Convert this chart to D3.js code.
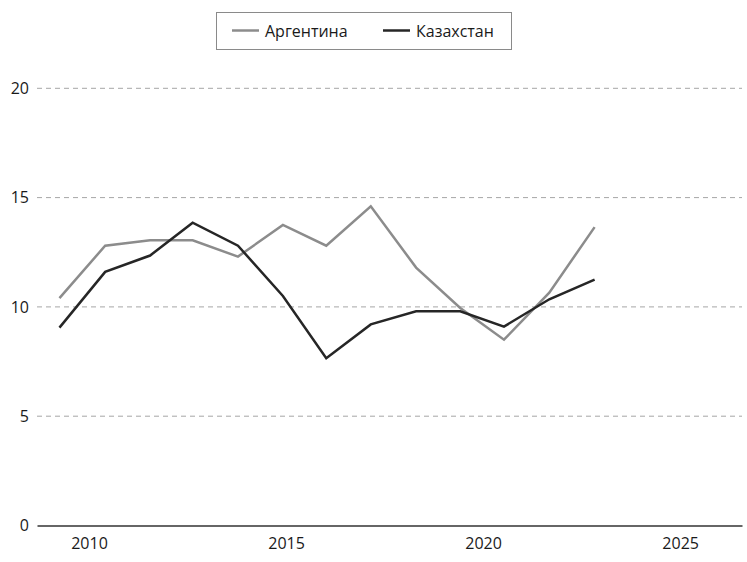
<!doctype html>
<html lang="ru">
<head>
    <meta charset="utf-8">
    <title>Аргентина / Казахстан</title>
    <script src="https://d3js.org/d3.v7.min.js"></script>
    <style>
        body { margin: 0; background: #fff; }
        svg { display: block; font-family: "Open Sans", "Noto Sans", sans-serif; }
    </style>
</head>
<body>
<script>
    // x positions (years) as they sit on the axis
    const years = [2009.25, 2010.41, 2011.55, 2012.63, 2013.78, 2014.92, 2016.02, 2017.15, 2018.30, 2019.42, 2020.53, 2021.68, 2022.83]
    const argentina = [10.4, 12.8, 13.05, 13.05, 12.3, 13.75, 12.8, 14.6, 11.8, 9.95, 8.5, 10.65, 13.65]
    const kazakhstan = [9.05, 11.6, 12.35, 13.85, 12.8, 10.5, 7.65, 9.2, 9.8, 9.8, 9.1, 10.35, 11.25]
    const seriesNames = ["Аргентина", "Казахстан"]
    const seriesColors = ["#8c8c8c", "#262626"]
    const xTicks = [2010, 2015, 2020, 2025]
    const yTicks = [0, 5, 10, 15, 20]

    const width = 747, height = 562

    const x = d3.scaleLinear().domain([2008.68, 2026.57]).range([37, 742])
    const y = d3.scaleLinear().domain([0, 20]).range([525.5, 88.3])

    const svg = d3.select("body").append("svg")
        .attr("width", width)
        .attr("height", height)

    // horizontal grid
    svg.append("g")
        .selectAll("line")
        .data(yTicks.filter(d => d > 0))
        .join("line")
        .attr("x1", x.range()[0])
        .attr("x2", x.range()[1])
        .attr("y1", d => y(d))
        .attr("y2", d => y(d))
        .attr("stroke", "#a6a6a6")
        .attr("stroke-width", 1)
        .attr("stroke-dasharray", "5,4")

    // y labels
    svg.append("g")
        .selectAll("text")
        .data(yTicks)
        .join("text")
        .attr("x", 29)
        .attr("y", d => y(d))
        .attr("dy", "0.35em")
        .attr("text-anchor", "end")
        .attr("font-size", 16)
        .attr("fill", "#1a1a1a")
        .text(d => d)

    // x axis
    const xAxis = d3.axisBottom(x).tickValues(xTicks).tickFormat(d3.format("d")).tickSize(0).tickPadding(12)
    const gx = svg.append("g")
        .attr("transform", `translate(0,${y(0)})`)
        .call(xAxis)
    gx.select(".domain").attr("stroke", "#333").attr("stroke-width", 1.5)
    gx.selectAll("text").attr("font-size", 16).attr("fill", "#1a1a1a")
        .attr("font-family", "\"Open Sans\", sans-serif")

    // lines
    const line = d3.line()
        .x((d, i) => x(years[i]))
        .y(d => y(d))

    ;[argentina, kazakhstan].forEach((values, k) => {
        svg.append("path")
            .datum(values)
            .attr("fill", "none")
            .attr("stroke", seriesColors[k])
            .attr("stroke-width", 2.5)
            .attr("d", line)
    })

    // legend
    const legend = svg.append("g")
    legend.append("rect")
        .attr("x", 216.5).attr("y", 12.5)
        .attr("width", 295).attr("height", 37)
        .attr("fill", "#fff")
        .attr("stroke", "#8a8a8a")
    const legendX = [232, 383]
    seriesNames.forEach((name, k) => {
        legend.append("line")
            .attr("x1", legendX[k]).attr("x2", legendX[k] + 27)
            .attr("y1", 30.5).attr("y2", 30.5)
            .attr("stroke", seriesColors[k])
            .attr("stroke-width", 2.5)
        legend.append("text")
            .attr("x", legendX[k] + 33)
            .attr("y", 31)
            .attr("dy", "0.35em")
            .attr("font-size", 16)
            .attr("fill", "#1a1a1a")
            .text(name)
    })
</script>
</body>
</html>
